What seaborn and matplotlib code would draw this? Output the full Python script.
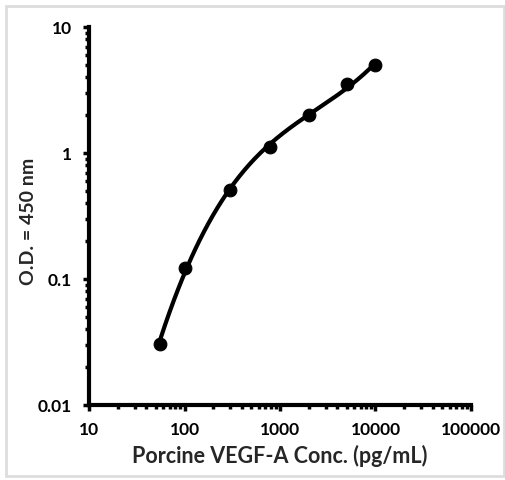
import numpy as np
import pandas as pd
import matplotlib
matplotlib.use('Agg')
import matplotlib.pyplot as plt
import seaborn as sns
from matplotlib.ticker import LogLocator, FixedLocator, FixedFormatter, NullFormatter

# standard curve data
conc = [55, 100, 300, 780, 2000, 5000, 10000]
od = [0.0305, 0.122, 0.508, 1.12, 2.0, 3.52, 4.98]

x_ticks = [10, 100, 1000, 10000, 100000]
x_labels = ['10', '100', '1000', '10000', '100000']
y_ticks = [0.01, 0.1, 1, 10]
y_labels = ['0.01', '0.1', '1', '10']

sns.set_style('white')
plt.rcParams['font.family'] = ['Lato', 'DejaVu Sans']

df = pd.DataFrame({'conc': conc, 'od': od})

# smooth fit in log-log space (cubic)
lx = np.log10(df['conc'])
ly = np.log10(df['od'])
coef = np.polyfit(lx, ly, 3)
grid = np.linspace(lx.min(), lx.max(), 200)
fit = pd.DataFrame({'conc': 10 ** grid, 'od': 10 ** np.polyval(coef, grid)})

fig = plt.figure(figsize=(5.06, 4.80), dpi=100)
ax = fig.add_axes([89 / 506, 75 / 480, 382 / 506, 378 / 480])

sns.lineplot(data=fit, x='conc', y='od', ax=ax, color='black', lw=3)
sns.scatterplot(data=df, x='conc', y='od', ax=ax, color='black', s=85,
                edgecolor='black', zorder=3)

ax.set_xscale('log')
ax.set_yscale('log')
ax.set_xlim(10, 100000)
ax.set_ylim(0.01, 10)

ax.xaxis.set_major_locator(FixedLocator(x_ticks))
ax.xaxis.set_major_formatter(FixedFormatter(x_labels))
ax.yaxis.set_major_locator(FixedLocator(y_ticks))
ax.yaxis.set_major_formatter(FixedFormatter(y_labels))
ax.xaxis.set_minor_locator(LogLocator(base=10, subs=np.arange(2, 10)))
ax.yaxis.set_minor_locator(LogLocator(base=10, subs=np.arange(2, 10)))
ax.xaxis.set_minor_formatter(NullFormatter())
ax.yaxis.set_minor_formatter(NullFormatter())

for side in ['top', 'right']:
    ax.spines[side].set_visible(False)
for side in ['left', 'bottom']:
    ax.spines[side].set_linewidth(3)
    ax.spines[side].set_color('black')

ax.tick_params(which='major', direction='out', length=4, width=2.5,
               labelsize=12.5, pad=8, colors='black')
ax.tick_params(which='minor', direction='out', length=3, width=2.5, colors='black')
ax.tick_params(axis='x', which='both', bottom=True)
ax.tick_params(axis='y', which='both', left=True)
for lab in ax.get_xticklabels() + ax.get_yticklabels():
    lab.set_fontweight('bold')

ax.set_xlabel('Porcine VEGF-A Conc. (pg/mL)', fontsize=15.5, fontweight='bold', labelpad=5)
ax.set_ylabel('O.D. = 450 nm', fontsize=14, fontweight='bold')
ax.yaxis.set_label_coords(-0.136, 0.485)

# light grey frame round the picture
fig.patches.append(plt.Rectangle((6 / 506, 4 / 480), 498 / 506, 470 / 480,
                                 transform=fig.transFigure, fill=False,
                                 edgecolor='#dddddd', lw=2))

fig.savefig('out.png', dpi=100)
